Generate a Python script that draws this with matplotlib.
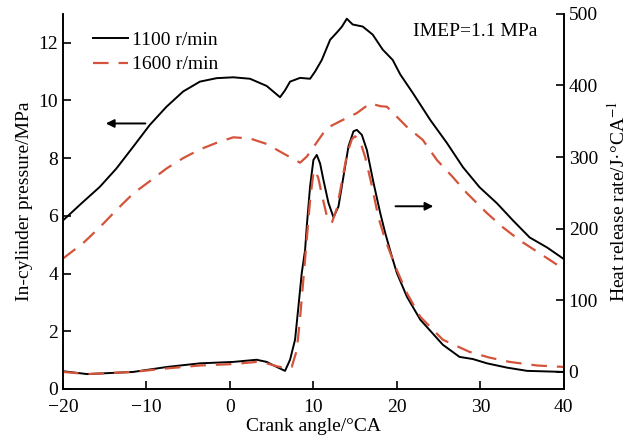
import numpy as np
import matplotlib
matplotlib.use("Agg")
import matplotlib.pyplot as plt

plt.rcParams["font.family"] = ["Liberation Serif", "DejaVu Serif"]
plt.rcParams["mathtext.fontset"] = "stix"

# in-cylinder pressure, MPa
p1100_ca = [-20, -17.6, -15.6, -13.6, -11.6, -9.6, -7.6, -5.6, -3.6, -1.6, 0.4, 2.4, 4.4,
            6.0, 6.6, 7.2, 8.4, 9.6, 10.2, 11.0, 12.0, 12.8, 13.4, 14.0, 14.7, 15.9, 17.1,
            18.3, 19.5, 20.4, 21.9, 24.0, 26.0, 27.9, 29.9, 32.0, 33.9, 35.9, 38.0, 40]
p1100 = [5.84, 6.48, 7.0, 7.64, 8.39, 9.15, 9.78, 10.31, 10.65, 10.77, 10.8, 10.75, 10.5,
         10.11, 10.35, 10.65, 10.78, 10.75, 11.0, 11.4, 12.1, 12.35, 12.55, 12.83, 12.63,
         12.56, 12.28, 11.76, 11.4, 10.9, 10.26, 9.32, 8.52, 7.69, 6.99, 6.43, 5.84, 5.25,
         4.9, 4.5]
p1600_ca = [-20, -17.6, -15.6, -13.6, -11.6, -9.6, -7.6, -5.6, -3.6, -1.6, 0.4, 2.4, 4.4,
            6.4, 8.4, 9.2, 10.0, 11.6, 13.5, 15.2, 16.8, 18.0, 18.8, 21.2, 23.1, 24.8, 26.7,
            28.4, 30.8, 32.7, 34.7, 37.1, 40]
p1600 = [4.52, 5.05, 5.6, 6.2, 6.77, 7.2, 7.64, 8.0, 8.3, 8.53, 8.72, 8.68, 8.49, 8.16,
         7.84, 8.05, 8.38, 9.04, 9.32, 9.56, 9.9, 9.8, 9.78, 9.08, 8.63, 7.93, 7.34, 6.78,
         6.09, 5.6, 5.15, 4.7, 4.15]

# heat release rate, J/°CA
h1100_ca = [-20, -17.1, -11.6, -7.5, -3.6, 0.4, 3.2, 4.4, 5.6, 6.6, 7.2, 7.8, 8.2, 8.6,
            9.0, 9.2, 9.6, 10.0, 10.4, 10.8, 11.2, 11.8, 12.4, 13.0, 13.6, 14.2, 14.8,
            15.2, 15.8, 16.4, 17.2, 18.0, 18.6, 19.4, 20.0, 21.2, 22.8, 25.5, 27.5, 29.1,
            30.8, 33.2, 35.6, 40]
h1100 = [1, -3, 0, 7, 12, 14, 17, 14, 7, 1.5, 17, 45, 91, 138, 170, 203, 259, 296, 303,
         291, 268, 236, 216, 231, 273, 315, 336, 338, 331, 310, 264, 222, 194, 161, 138,
         105, 73, 38, 21, 18, 12, 6, 1.5, 0]
h1600_ca = [-20, -17.1, -11.6, -7.5, -3.6, 0.4, 3.2, 4.4, 5.6, 6.7, 7.4, 8.0, 8.4, 8.8,
            9.2, 9.6, 10.0, 10.2, 10.6, 11.0, 11.6, 12.2, 12.8, 13.4, 14.0, 14.6, 15.0,
            15.6, 16.2, 17.0, 17.8, 18.6, 19.4, 20.0, 21.2, 22.8, 25.5, 28.7, 31.1, 33.5,
            36.8, 40]
h1600 = [0, -3, 0, 5, 9, 11, 14, 12, 8, 5, 7, 30, 75, 130, 185, 240, 278, 282, 270, 248,
         218, 208, 228, 265, 303, 325, 329, 322, 300, 260, 215, 185, 160, 142, 110, 77,
         45, 28, 20, 14, 9, 7]

fig, ax = plt.subplots(figsize=(6.3, 4.46), dpi=100)
fig.subplots_adjust(left=0.1, right=0.895, bottom=0.128, top=0.969)
ax2 = ax.twinx()

red = "#d4533a"
dash = (0, (7, 4.5))
ax.plot(p1100_ca, p1100, color="black", lw=1.4, label="1100 r/min")
ax.plot(p1600_ca, p1600, color=red, lw=1.6, ls=dash, label="1600 r/min")
ax2.plot(h1100_ca, h1100, color="black", lw=1.4)
ax2.plot(h1600_ca, h1600, color=red, lw=1.6, ls=dash)

ax.set_xlim(-20, 40)
ax.set_ylim(0, 13)
ax2.set_ylim(-23.7, 500)
ax.set_xticks([-20, -10, 0, 10, 20, 30, 40])
ax.set_yticks([0, 2, 4, 6, 8, 10, 12])
ax2.set_yticks([0, 100, 200, 300, 400, 500])
ax.set_xticklabels(["\u221220", "\u221210", "0", "10", "20", "30", "40"])

for a in (ax, ax2):
    a.spines["top"].set_visible(False)
    for s in a.spines.values():
        s.set_linewidth(1.2)
    a.tick_params(direction="in", length=6, width=1.2, labelsize=14)
ax.tick_params(axis="x", pad=7)

ax.set_xlabel("Crank angle/\u00b0CA", fontsize=14, labelpad=2)
ax.set_ylabel("In-cylinder pressure/MPa", fontsize=14, labelpad=4)
ax2.set_ylabel("Heat release rate/J\u00b7\u00b0CA$^{-1}$", fontsize=14, labelpad=6)

ax.legend(loc="upper left", bbox_to_anchor=(0.025, 1.0), frameon=False, fontsize=14,
          handlelength=1.8, handletextpad=0.2, labelspacing=0.35)
ax.text(0.699, 0.952, "IMEP=1.1 MPa", transform=ax.transAxes, fontsize=14, va="center")

ax.annotate("", xy=(-15.2, 9.2), xytext=(-9.8, 9.2),
            arrowprops=dict(arrowstyle="-|>", color="black", lw=1.4, mutation_scale=12))
ax.annotate("", xy=(24.7, 6.33), xytext=(19.5, 6.33),
            arrowprops=dict(arrowstyle="-|>", color="black", lw=1.4, mutation_scale=12))

fig.savefig("out.png", dpi=100)
